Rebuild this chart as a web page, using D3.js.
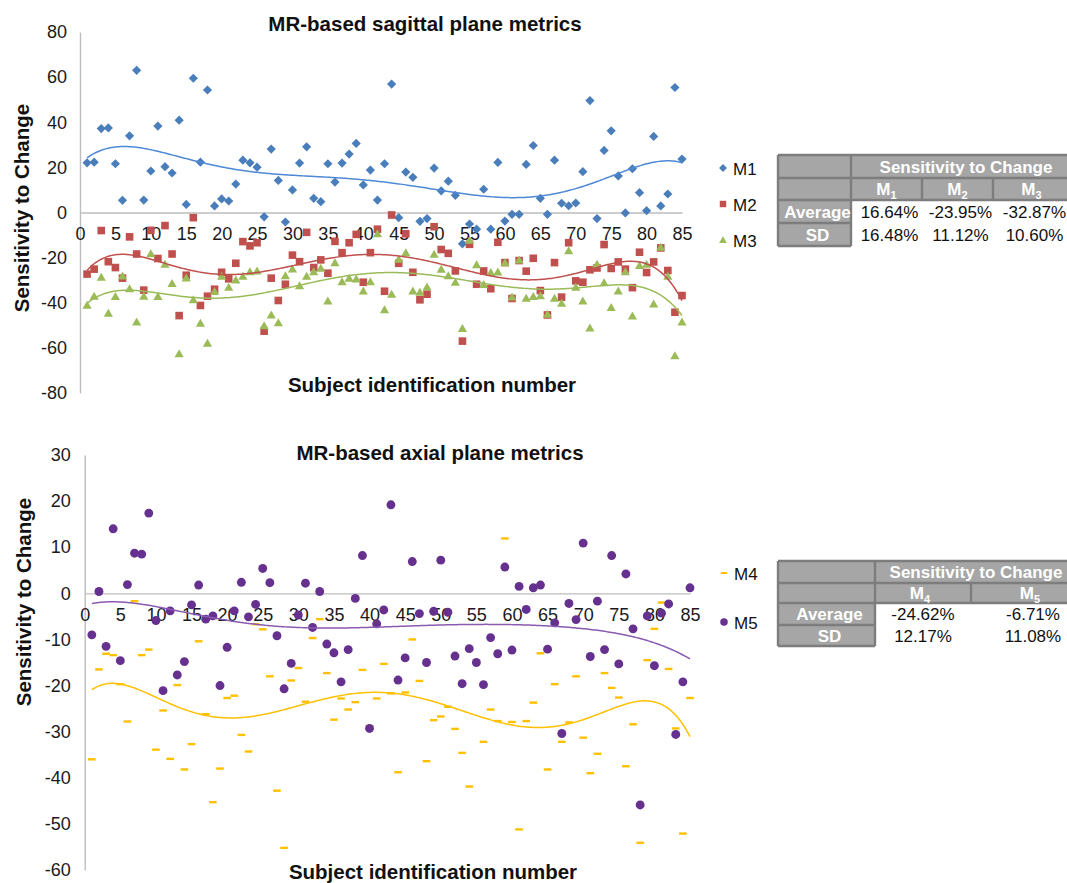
<!DOCTYPE html>
<html>
<head>
<meta charset="utf-8">
<script src="https://cdn.jsdelivr.net/npm/d3@7"></script>
<style>
  body { margin: 0; background: #fff; }
  svg { display: block; font-family: "Liberation Sans", Arial, Helvetica, sans-serif; }
</style>
</head>
<body>
<svg id="chart" width="1067" height="883"></svg>
<script>
// ---------- data ----------
const subjects = d3.range(1, 86);

const m1 = [22.0,22.3,37.2,37.5,21.6,5.4,34.0,63.0,5.5,18.4,
            38.3,20.3,17.5,40.9,3.6,59.5,22.3,54.3,2.9,6.0,
            5.1,12.6,23.2,22.0,20.1,-1.9,28.1,14.2,-4.2,10.0,
            21.9,29.1,6.3,4.8,21.6,13.5,21.9,25.9,30.6,12.2,
            18.8,5.5,21.6,56.9,-2.3,17.9,15.6,-3.9,-2.7,19.7,
            9.6,13.9,7.6,-13.9,-5.1,-7.4,10.3,-7.4,22.2,-3.8,
            -0.8,-0.8,21.3,29.7,6.3,-0.8,23.2,4.1,3.0,4.2,
            18.1,49.6,-2.7,27.5,36.2,16.2,-0.2,19.4,8.8,0.8,
            33.7,2.9,8.2,55.4,23.7];

const m2 = [-27.3,-25.1,-8.0,-21.8,-24.4,-29.1,-10.8,-18.4,-34.4,-7.9,
            -20.4,-5.8,-18.4,-45.7,-27.8,-2.3,-41.2,-37.1,-34.0,-26.5,
            -29.4,-22.5,-12.9,-14.8,-13.4,-52.6,-29.1,-39.0,-31.8,-18.9,
            -21.8,-8.8,-24.4,-21.0,-26.9,-12.8,-17.8,-13.4,-9.7,-30.9,
            -17.8,-7.4,-34.9,-1.1,-22.5,-9.4,-26.5,-38.7,-36.2,-6.3,
            -16.4,-18.1,-25.9,-57.0,-14.1,-31.8,-25.9,-33.8,-13.2,-22.2,
            -38.1,-21.3,-26.0,-20.3,-34.6,-45.4,-22.2,-37.5,-13.4,-30.3,
            -30.9,-25.4,-24.6,-14.2,-24.8,-21.9,-25.1,-33.3,-17.6,-26.6,
            -21.9,-15.7,-25.7,-44.2,-36.8];

const m3 = [-41.1,-37.1,-28.7,-44.6,-37.2,-28.1,-33.8,-48.5,-37.1,-18.2,
            -37.2,-22.9,-31.4,-62.6,-29.0,-38.6,-49.0,-57.9,-35.0,-28.2,
            -33.1,-29.9,-28.2,-26.2,-25.9,-50.1,-45.4,-48.8,-28.0,-25.0,
            -32.4,-28.2,-26.2,-24.7,-39.2,-22.2,-30.6,-29.1,-29.4,-34.7,
            -30.6,-9.4,-43.1,-36.2,-20.7,-17.8,-34.7,-35.3,-33.0,-18.5,
            -25.1,-28.0,-30.9,-51.4,-12.2,-23.1,-31.9,-26.6,-26.3,-22.2,
            -37.4,-21.0,-38.0,-37.2,-36.8,-45.0,-38.0,-40.2,-16.9,-33.1,
            -39.2,-51.1,-22.9,-31.1,-42.1,-34.7,-26.2,-45.8,-23.5,-22.9,
            -40.5,-15.4,-28.2,-63.4,-48.5];

const m4 = [-36.0,-16.5,-13.1,-13.4,-19.7,-27.8,-1.7,-13.4,-12.2,-33.9,
            -25.4,-35.9,-19.9,-38.2,-32.7,-10.4,-26.2,-45.3,-38.0,-22.7,
            -22.2,-30.7,-34.3,-6.7,-7.8,-18.0,-42.8,-55.2,-18.9,-16.2,
            -23.5,-9.7,-5.6,-17.3,-27.4,-22.8,-25.2,-23.6,-16.6,-28.8,
            -22.8,-15.3,-21.7,-38.8,-21.5,-10.0,-19.0,-36.4,-27.5,-26.7,
            -24.6,-29.4,-34.6,-41.9,-15.0,-32.2,-25.2,-27.7,11.9,-27.9,
            -51.2,-27.7,-23.7,-13.0,-38.2,-19.7,-32.2,-28.0,-18.0,-31.3,
            -39.0,-34.8,-17.3,-20.5,-22.6,-37.5,-28.4,-54.1,-14.5,-7.7,
            -2.0,-16.4,-29.3,-52.1,-22.7];

const m5 = [-9.0,0.4,-11.5,14.0,-14.6,1.9,8.7,8.5,17.4,-5.9,
            -21.1,-3.8,-17.7,-14.8,-2.5,1.8,-5.6,-4.9,-20.0,-11.7,
            -3.8,2.4,-5.1,-2.4,5.4,2.3,-9.2,-20.7,-15.2,-4.7,
            2.2,-7.4,0.4,-11.0,-12.9,-19.2,-12.2,-1.1,8.2,-29.3,
            -6.6,-3.6,19.2,-18.8,-14.0,6.9,-4.4,-15.0,-3.9,7.2,
            -4.1,-13.6,-19.6,-12.0,-15.0,-19.8,-9.6,-13.1,5.7,-12.3,
            1.5,-3.5,1.2,1.8,-12.1,-6.4,-30.4,-2.2,-5.7,10.9,
            -13.7,-1.7,-12.2,8.2,-15.3,4.2,-7.7,-45.9,-4.9,-15.7,
            -4.3,-2.3,-30.6,-19.2,1.2];

const xTicks = d3.range(0, 86, 5);
const sagittalYTicks = [-80, -60, -40, -20, 0, 20, 40, 60, 80];
const axialYTicks = [-60, -50, -40, -30, -20, -10, 0, 10, 20, 30];

// summary tables
const sagittalMetricLabels = ["1", "2", "3"];
const sagittalAverage = ["16.64%", "-23.95%", "-32.87%"];
const sagittalSD = ["16.48%", "11.12%", "10.60%"];
const axialMetricLabels = ["4", "5"];
const axialAverage = ["-24.62%", "-6.71%"];
const axialSD = ["12.17%", "11.08%"];

// ---------- helpers ----------
const svg = d3.select("#chart");
const FONT = '"Liberation Sans", Arial, Helvetica, sans-serif';
const AXIS_GREY = "#bdbdbd";
const plainNumber = d => String(d);   // hyphen-minus, as in the spreadsheet output

// least-squares polynomial trendline
function polyFit(xs, ys, deg) {
  const cx = (d3.min(xs) + d3.max(xs)) / 2;
  const sx = (d3.max(xs) - d3.min(xs)) / 2;
  const n = deg + 1;
  const A = Array.from({ length: n }, () => new Array(n + 1).fill(0));
  xs.forEach((x, k) => {
    const t = (x - cx) / sx;
    const p = [];
    for (let j = 0; j < n; j++) p.push(Math.pow(t, j));
    for (let r = 0; r < n; r++) {
      for (let c = 0; c < n; c++) A[r][c] += p[r] * p[c];
      A[r][n] += p[r] * ys[k];
    }
  });
  for (let i = 0; i < n; i++) {
    let piv = i;
    for (let r = i + 1; r < n; r++) if (Math.abs(A[r][i]) > Math.abs(A[piv][i])) piv = r;
    [A[i], A[piv]] = [A[piv], A[i]];
    for (let r = 0; r < n; r++) {
      if (r === i) continue;
      const f = A[r][i] / A[i][i];
      for (let c = i; c <= n; c++) A[r][c] -= f * A[i][c];
    }
  }
  const coef = A.map((row, i) => row[n] / row[i]);
  return x => {
    const t = (x - cx) / sx;
    let s = 0;
    for (let j = n - 1; j >= 0; j--) s = s * t + coef[j];
    return s;
  };
}

function markerPath(shape) {
  switch (shape) {
    case "diamond": return "M0,-4.6L4.6,0L0,4.6L-4.6,0Z";
    case "square": return "M-3.8,-3.8H3.8V3.8H-3.8Z";
    case "triangle": return "M0,-4.4L4.6,3.6H-4.6Z";
    case "circle": return d3.symbol(d3.symbolCircle, 62)();
    case "dash": return "M-3.8,-1.2H3.8V1.2H-3.8Z";
  }
}

function drawPanel(cfg) {
  const g = svg.append("g");
  const x = d3.scaleLinear().domain([0, 85]).range(cfg.xRange);
  const y = d3.scaleLinear().domain(cfg.yDomain).range(cfg.yRange);

  // y axis
  const yAxis = g.append("g")
    .attr("transform", `translate(${x(0)},0)`)
    .call(d3.axisLeft(y).tickValues(cfg.yTicks).tickSize(0).tickPadding(cfg.yPad).tickFormat(plainNumber));
  yAxis.select(".domain").attr("stroke", AXIS_GREY).attr("stroke-width", 1.4);
  yAxis.selectAll("text").attr("font-size", 18).attr("font-family", FONT).attr("fill", "#1a1a1a");

  // x axis on the zero line
  const xAxis = g.append("g")
    .attr("transform", `translate(0,${y(0)})`)
    .call(d3.axisBottom(x).tickValues(xTicks).tickSize(0).tickPadding(15).tickFormat(plainNumber));
  xAxis.select(".domain").attr("stroke", AXIS_GREY).attr("stroke-width", 1.4);
  xAxis.selectAll("text").attr("font-size", 18).attr("font-family", FONT).attr("fill", "#1a1a1a");

  // markers
  cfg.series.forEach(s => {
    g.append("g").selectAll("path")
      .data(subjects.map((sid, i) => [sid, s.values[i]]))
      .join("path")
      .attr("d", markerPath(s.shape))
      .attr("transform", d => `translate(${x(d[0])},${y(d[1])})`)
      .attr("fill", s.color);
  });

  // 6th-order polynomial trendlines
  cfg.series.forEach(s => {
    const f = polyFit(subjects, s.values, 6);
    const pts = d3.range(1, 85.01, 0.25).map(v => [v, f(v)]);
    g.append("path")
      .attr("d", d3.line().x(d => x(d[0])).y(d => y(d[1]))(pts))
      .attr("fill", "none")
      .attr("stroke", s.trend || s.color)
      .attr("stroke-width", 1.5);
  });

  // titles
  g.append("text").attr("x", cfg.titleX).attr("y", cfg.titleY)
    .attr("text-anchor", "middle").attr("font-size", 20.5).attr("font-weight", "bold")
    .attr("fill", "#111").text(cfg.title);
  g.append("text").attr("x", cfg.xTitleX).attr("y", cfg.xTitleY)
    .attr("text-anchor", "middle").attr("font-size", 20.5).attr("font-weight", "bold")
    .attr("fill", "#111").text("Subject identification number");
  g.append("text")
    .attr("transform", `translate(${cfg.yTitleX},${cfg.yTitleY}) rotate(-90)`)
    .attr("text-anchor", "middle").attr("font-size", 20.5).attr("font-weight", "bold")
    .attr("fill", "#111").text("Sensitivity to Change");

  // legend
  cfg.series.forEach((s, i) => {
    const ly = cfg.legendY[i];
    g.append("path").attr("d", markerPath(s.shape))
      .attr("transform", `translate(${cfg.legendX},${ly}) scale(0.85)`).attr("fill", s.color);
    g.append("text").attr("x", cfg.legendX + 10).attr("y", ly + 6.5)
      .attr("font-size", 17).attr("fill", "#111").text(s.name);
  });
}

function drawTable(cfg) {
  const g = svg.append("g");
  const cols = cfg.cols, rows = cfg.rows;
  const fillGrey = "#a6a6a6", border = "#7d7d7d";

  // grey header band (rows 0-1) and row-label column
  g.append("rect").attr("x", cols[0]).attr("y", rows[0])
    .attr("width", cols[cols.length - 1] - cols[0]).attr("height", rows[2] - rows[0]).attr("fill", fillGrey);
  g.append("rect").attr("x", cols[0]).attr("y", rows[2])
    .attr("width", cols[1] - cols[0]).attr("height", rows[4] - rows[2]).attr("fill", fillGrey);

  const line = (x1, y1, x2, y2) => g.append("line")
    .attr("x1", x1).attr("y1", y1).attr("x2", x2).attr("y2", y2)
    .attr("stroke", border).attr("stroke-width", 2.4);
  line(cols[0], rows[0], cols[cols.length - 1], rows[0]);
  line(cols[0], rows[1], cols[cols.length - 1], rows[1]);
  line(cols[0], rows[2], cols[cols.length - 1], rows[2]);
  line(cols[0], rows[3], cols[1], rows[3]);
  line(cols[0], rows[4], cols[1], rows[4]);
  line(cols[0], rows[0], cols[0], rows[4]);
  line(cols[1], rows[0], cols[1], rows[4]);
  for (let c = 2; c < cols.length - 1; c++) line(cols[c], rows[1], cols[c], rows[2]);
  line(cols[cols.length - 1], rows[0], cols[cols.length - 1], rows[2]);

  const mid = i => (rows[i] + rows[i + 1]) / 2 + 6;
  const cmid = c => (cols[c] + cols[c + 1]) / 2 + cfg.dataShift;

  g.append("text").attr("x", cfg.headerX).attr("y", mid(0))
    .attr("text-anchor", "middle").attr("font-size", 17).attr("font-weight", "bold")
    .attr("fill", "#fff").text("Sensitivity to Change");

  cfg.labels.forEach((lab, i) => {
    const t = g.append("text").attr("x", cmid(i + 1) - 3).attr("y", mid(1))
      .attr("text-anchor", "middle").attr("font-size", 17).attr("font-weight", "bold").attr("fill", "#fff");
    t.append("tspan").text("M");
    t.append("tspan").attr("font-size", 11).attr("dy", 4).text(lab);
  });

  [["Average", cfg.avg], ["SD", cfg.sd]].forEach(([name, vals], r) => {
    g.append("text").attr("x", (cols[0] + cols[1]) / 2 + 3).attr("y", mid(r + 2))
      .attr("text-anchor", "middle").attr("font-size", 17).attr("font-weight", "bold")
      .attr("fill", "#fff").text(name);
    vals.forEach((v, i) => {
      g.append("text").attr("x", cmid(i + 1)).attr("y", mid(r + 2))
        .attr("text-anchor", "middle").attr("font-size", 17).attr("fill", "#111").text(v);
    });
  });
}

// ---------- sagittal plane panel ----------
drawPanel({
  xRange: [80, 682], yDomain: [-80, 80], yRange: [393, 32], yTicks: sagittalYTicks, yPad: 13,
  title: "MR-based sagittal plane metrics", titleX: 425, titleY: 31,
  xTitleX: 432, xTitleY: 392, yTitleX: 29, yTitleY: 208,
  legendX: 723, legendY: [168, 204, 240],
  series: [
    { name: "M1", values: m1, color: "#4a7ebb", trend: "#4f88d6", shape: "diamond" },
    { name: "M2", values: m2, color: "#c0504d", shape: "square" },
    { name: "M3", values: m3, color: "#9bbb59", shape: "triangle" }
  ]
});

drawTable({
  cols: [778, 851, 922, 993, 1070], rows: [155, 178, 200, 223, 246],
  headerX: 966, dataShift: 3,
  labels: sagittalMetricLabels, avg: sagittalAverage, sd: sagittalSD
});

// ---------- axial plane panel ----------
drawPanel({
  xRange: [84.7, 690], yDomain: [-60, 30], yRange: [870, 455], yTicks: axialYTicks, yPad: 14,
  title: "MR-based axial plane metrics", titleX: 440, titleY: 460,
  xTitleX: 433, xTitleY: 879, yTitleX: 31, yTitleY: 602,
  legendX: 724, legendY: [573, 622],
  series: [
    { name: "M4", values: m4, color: "#ffc000", shape: "dash" },
    { name: "M5", values: m5, color: "#66308f", trend: "#8a5bb0", shape: "circle" }
  ]
});

drawTable({
  cols: [778, 875, 971, 1095], rows: [561, 583, 603, 625, 646],
  headerX: 976, dataShift: 0,
  labels: axialMetricLabels, avg: axialAverage, sd: axialSD
});
</script>
</body>
</html>
